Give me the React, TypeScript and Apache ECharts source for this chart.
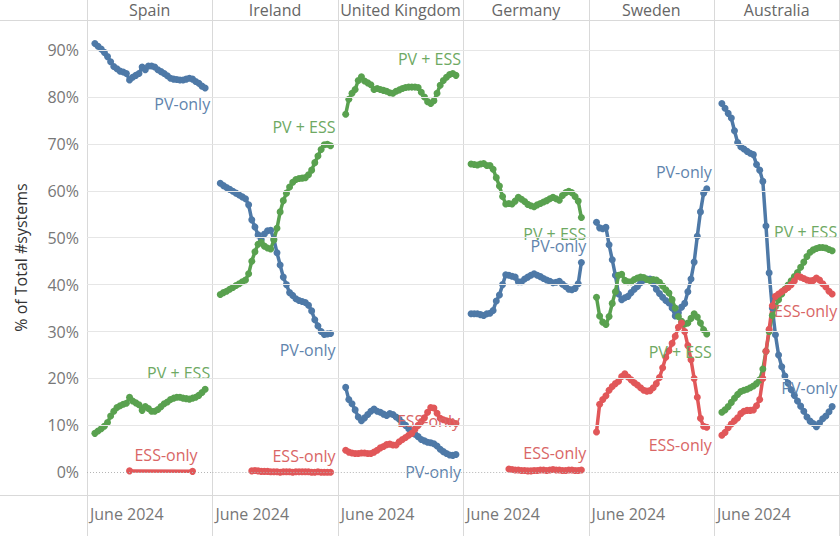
import React, { useEffect, useRef } from "react";
import * as echarts from "echarts";

// ---------- data ----------
const countries = ["Spain", "Ireland", "United Kingdom", "Germany", "Sweden", "Australia"];
const seriesNames = ["PV-only", "PV + ESS", "ESS-only"];
const xTickLabel = "June 2024";
const yGridTicks = [10, 20, 30, 40, 50, 60, 70, 80, 90];
const yZeroTick = 0;

const spainPvOnly = [91.4, 90.8, 90.2, 89.5, 88.6, 87.5, 86.5, 86.0, 85.5, 85.3, 85.0, 83.6, 84.2, 84.6, 85.0, 86.4, 85.8, 86.6, 86.6, 86.4, 85.8, 85.4, 85.0, 84.5, 84.0, 83.8, 83.7, 83.6, 83.6, 83.8, 84.0, 83.8, 83.3, 82.9, 82.3, 81.9];
const spainPvEss = [8.3, 8.8, 9.3, 9.8, 10.6, 12.0, 13.0, 13.8, 14.2, 14.5, 14.7, 16.0, 15.2, 14.8, 14.4, 13.2, 14.0, 13.6, 13.0, 13.0, 13.4, 14.0, 14.6, 15.0, 15.5, 15.8, 16.0, 16.0, 15.8, 15.7, 15.6, 15.8, 16.0, 16.4, 17.0, 17.7];
const spainEssOnly = [null, null, null, null, null, null, null, null, null, null, null, 0.3, null, null, null, null, null, null, null, null, null, null, null, null, null, null, null, null, null, null, null, 0.2, null, null, null, null];

const irelandPvOnly = [61.6, 61.1, 60.7, 60.3, 59.9, 59.5, 59.1, 58.7, 58.3, 57.0, 53.8, 52.3, 50.6, 49.6, 50.8, 51.5, 51.6, 49.7, 46.8, 44.2, 41.6, 40.0, 38.3, 37.7, 37.0, 36.6, 36.4, 36.2, 35.6, 34.4, 32.5, 31.2, 30.0, 29.4, 29.5, 29.6];
const irelandPvEss = [37.9, 38.3, 38.6, 39.0, 39.4, 39.8, 40.2, 40.6, 41.0, 42.3, 45.0, 47.0, 48.6, 49.0, 48.2, 47.8, 47.6, 49.5, 52.0, 55.5, 57.9, 59.5, 60.8, 61.8, 62.4, 62.6, 62.7, 62.8, 63.4, 64.4, 66.0, 67.4, 68.8, 69.8, 69.9, 69.6];
const irelandEssOnly = [null, null, null, null, null, null, null, null, null, null, 0.3, 0.4, 0.3, 0.2, 0.2, 0.2, 0.1, 0.1, 0.1, 0.0, 0.1, 0.1, 0.1, 0.0, 0.1, 0.1, 0.1, 0.1, 0.1, 0.0, 0.0, 0.1, 0.0, 0.0, 0.0, 0.0];

const ukPvOnly = [18.1, 15.5, 14.6, 13.3, 11.8, 11.0, 11.6, 12.3, 13.0, 13.5, 13.0, 12.8, 12.4, 12.1, 12.5, 12.3, 11.8, 11.3, 10.6, 10.0, 9.3, 8.6, 8.1, 7.6, 7.0, 6.7, 6.4, 6.3, 6.1, 5.6, 4.9, 4.4, 4.0, 3.7, 3.6, 3.8];
const ukPvEss = [76.3, 79.5, 80.8, 81.6, 83.5, 84.3, 83.4, 83.0, 82.6, 81.6, 81.8, 81.6, 81.4, 81.2, 80.9, 80.8, 81.2, 81.5, 81.8, 82.0, 82.1, 82.1, 82.1, 82.0, 81.0, 80.0, 79.0, 78.6, 79.2, 80.8, 82.5, 83.5, 84.2, 84.8, 85.0, 84.6];
const ukEssOnly = [4.7, 4.3, 4.1, 4.0, 4.0, 4.1, 4.1, 4.0, 4.0, 4.3, 4.7, 5.2, 5.5, 5.9, 6.0, 5.8, 5.8, 6.5, 7.0, 7.4, 7.9, 8.3, 9.2, 10.0, 10.8, 11.6, 12.8, 13.8, 13.7, 12.6, 11.5, 11.2, 11.0, 10.8, 10.6, 10.4];

const germanyPvOnly = [33.8, 33.8, 33.8, 33.6, 33.4, 33.8, 33.9, 34.5, 36.5, 37.8, 40.0, 42.1, 42.0, 41.8, 41.6, 40.6, 40.6, 41.2, 41.6, 42.0, 42.3, 42.0, 41.7, 41.3, 41.0, 40.7, 40.4, 40.5, 40.7, 40.1, 39.6, 39.0, 38.9, 39.2, 40.2, 44.7];
const germanyPvEss = [65.7, 65.6, 65.5, 65.7, 65.8, 65.4, 65.4, 64.6, 62.8, 61.0, 58.8, 57.2, 57.3, 57.2, 57.8, 58.6, 58.2, 57.7, 57.1, 56.8, 56.6, 57.0, 57.3, 57.6, 57.9, 58.3, 58.6, 58.3, 58.0, 59.0, 59.6, 59.9, 59.6, 58.8, 57.8, 54.3];
const germanyEssOnly = [null, null, null, null, null, null, null, null, null, null, null, null, 0.7, 0.6, 0.5, 0.5, 0.4, 0.4, 0.3, 0.3, 0.4, 0.4, 0.5, 0.5, 0.4, 0.5, 0.6, 0.5, 0.5, 0.4, 0.4, 0.5, 0.5, 0.4, 0.4, 0.5];

const swedenPvOnly = [53.3, 52.1, 51.9, 52.2, 48.5, 45.3, 42.0, 38.0, 36.8, 37.2, 37.5, 38.3, 39.0, 39.6, 40.4, 41.0, 41.2, 41.2, 40.2, 39.0, 38.1, 37.3, 36.6, 36.1, 35.0, 33.3, 34.0, 35.2, 36.0, 38.5, 41.2, 44.8, 50.3, 55.5, 59.5, 60.4];
const swedenPvEss = [37.3, 33.3, 32.0, 31.5, 33.2, 36.0, 38.5, 42.0, 42.2, 40.9, 40.6, 40.6, 41.1, 41.4, 41.6, 41.5, 41.1, 40.9, 41.1, 41.0, 40.5, 39.7, 38.9, 38.2, 36.8, 35.0, 33.2, 32.2, 31.6, 31.8, 32.8, 33.8, 33.1, 31.8, 30.4, 29.5];
const swedenEssOnly = [8.6, 14.5, 15.5, 16.3, 17.5, 18.3, 18.9, 19.4, 20.4, 21.0, 20.3, 19.7, 19.1, 18.6, 18.0, 17.5, 17.3, 17.4, 18.0, 18.9, 20.2, 22.3, 24.5, 25.9, 27.5, 29.0, 30.9, 31.8, 30.0, 27.0, 24.0, 20.0, 16.0, 11.5, 9.8, 9.6];

const australiaPvOnly = [78.6, 77.6, 76.5, 75.5, 72.8, 70.3, 69.4, 68.9, 68.4, 68.0, 67.7, 65.6, 64.4, 62.0, 52.5, 42.5, 35.0, 29.3, 25.0, 22.5, 20.5, 19.0, 17.6, 16.4, 15.2, 14.1, 13.0, 11.8, 10.9, 10.4, 9.7, 10.5, 11.4, 12.0, 12.9, 14.0];
const australiaPvEss = [12.8, 13.3, 14.0, 14.9, 15.8, 16.6, 17.2, 17.5, 17.7, 18.0, 18.4, 18.9, 19.7, 22.0, 25.8, 30.0, 33.4, 35.3, 36.8, 38.0, 39.0, 39.9, 40.8, 41.7, 42.6, 43.7, 44.8, 46.0, 46.9, 47.4, 47.7, 47.9, 47.9, 47.8, 47.5, 47.2];
const australiaEssOnly = [7.9, 8.5, 9.5, 10.3, 11.0, 11.6, 12.5, 13.0, 13.2, 13.2, 13.3, 14.2, 15.5, 20.0, 25.8, 30.5, 35.5, 37.5, 38.0, 38.5, 38.9, 39.4, 40.0, 40.8, 41.8, 41.6, 41.3, 41.0, 40.8, 40.9, 41.4, 41.0, 40.2, 39.5, 38.6, 38.0];

const dataByCountry: Record<string, (number | null)[][]> = {
  Spain: [spainPvOnly, spainPvEss, spainEssOnly],
  Ireland: [irelandPvOnly, irelandPvEss, irelandEssOnly],
  "United Kingdom": [ukPvOnly, ukPvEss, ukEssOnly],
  Germany: [germanyPvOnly, germanyPvEss, germanyEssOnly],
  Sweden: [swedenPvOnly, swedenPvEss, swedenEssOnly],
  Australia: [australiaPvOnly, australiaPvEss, australiaEssOnly],
};

// ---------- styles / layout ----------
const FONT = "'Open Sans', sans-serif";
const colors = ["#4e79a7", "#59a14f", "#e15759"];
const labelColors = ["#5f84ad", "#6ea963", "#d96666"];
const PLOT_LEFT = 87;
const PANEL_W = 125.4;
const PLOT_TOP = 20;
const PLOT_BOTTOM = 495;
const WIDTH = 840;
const HEIGHT = 536;
const BORDER = "#d9d9d9";

// end-label placement per country / series: [position, distance]
const labelPlacement: Record<string, [string, number]> = {
  "Spain|0": ["bottom", 4], "Spain|1": ["top", 5], "Spain|2": ["top", 5],
  "Ireland|0": ["bottom", 5], "Ireland|1": ["top", 7], "Ireland|2": ["top", 5],
  "United Kingdom|0": ["bottom", 6], "United Kingdom|1": ["top", 5], "United Kingdom|2": ["inside", 0],
  "Germany|0": ["top", 5], "Germany|1": ["bottom", 5], "Germany|2": ["top", 5],
  "Sweden|0": ["top", 5], "Sweden|1": ["bottom", 7], "Sweden|2": ["bottom", 6],
  "Australia|0": ["top", 7], "Australia|1": ["top", 7], "Australia|2": ["bottom", 5],
};

function buildOption() {
  const grid = countries.map((_, i) => ({
    left: PLOT_LEFT + i * PANEL_W,
    top: PLOT_TOP,
    width: PANEL_W,
    height: PLOT_BOTTOM - PLOT_TOP,
  }));

  const xAxis = countries.map((_, i) => ({
    type: "value",
    gridIndex: i,
    min: -2.5,
    max: 37.3,
    interval: 100,
    axisLine: { show: false },
    axisTick: { show: false },
    splitLine: { show: false },
    axisLabel: {
      show: true,
      showMinLabel: true,
      showMaxLabel: false,
      formatter: (_v: number, idx: number) => (idx === 0 ? xTickLabel : ""),
      align: "left",
      padding: [0, 0, 0, 3],
      margin: 11,
      color: "#777",
      fontSize: 16,
      fontFamily: FONT,
    },
  }));

  const yAxis = countries.map((_, i) => ({
    type: "value",
    gridIndex: i,
    min: -4.84,
    max: 96.4,
    splitNumber: 10,
    minInterval: 10,
    maxInterval: 10,
    axisLine: { show: false },
    axisTick: { show: false },
    splitLine: { show: false },
    axisLabel:
      i === 0
        ? {
            show: true,
            margin: 8,
            color: "#777",
            fontSize: 16,
            fontFamily: FONT,
            formatter: (v: number) =>
              v >= -1e-6 && Math.abs(v - Math.round(v / 10) * 10) < 1e-6 ? `${Math.round(v)}%` : "",
          }
        : { show: false },
    name: i === 0 ? "% of Total #systems" : "",
    nameLocation: "middle",
    nameGap: 58,
    nameRotate: 90,
    nameTextStyle: { color: "#333", fontSize: 16, fontFamily: FONT },
  }));

  const series: any[] = [];
  countries.forEach((country, ci) => {
    // gridlines for this panel
    series.push({
      type: "line",
      xAxisIndex: ci,
      yAxisIndex: ci,
      data: [],
      silent: true,
      z: 1,
      markLine: {
        silent: true,
        symbol: ["none", "none"],
        label: { show: false },
        animation: false,
        data: [
          ...yGridTicks.map((v) => ({ yAxis: v, lineStyle: { color: "#e6e6e6", width: 1, type: "solid" } })),
          { yAxis: yZeroTick, lineStyle: { color: "#b5b5b5", width: 1, type: [1, 2] } },
        ],
      },
    });
    const arrs = dataByCountry[country];
    arrs.forEach((arr, si) => {
      let last = -1;
      arr.forEach((v, j) => {
        if (v != null) last = j;
      });
      const [pos, dist] = labelPlacement[`${country}|${si}`];
      const pts: any[] = [];
      arr.forEach((v, j) => {
        if (v == null) return;
        if (j === last) {
          pts.push({
            value: [j, v],
            label: {
              show: true,
              position: pos,
              distance: dist,
              align: "right",
              verticalAlign: pos === "inside" ? "middle" : undefined,
              offset: pos === "inside" ? [4, -2] : [5, 0],
              formatter: seriesNames[si],
              color: labelColors[si],
              fontSize: 16,
              fontFamily: FONT,
            },
          });
        } else {
          pts.push([j, v]);
        }
      });
      series.push({
        type: "line",
        name: seriesNames[si],
        xAxisIndex: ci,
        yAxisIndex: ci,
        z: 3,
        data: pts,
        symbol: "circle",
        symbolSize: 7,
        showSymbol: true,
        lineStyle: { color: colors[si], width: 3.5 },
        itemStyle: { color: colors[si] },
        label: { show: false },
        emphasis: { disabled: true },
      });
    });
  });

  const graphic: any[] = [];
  // header row line and bottom line
  graphic.push({ type: "line", shape: { x1: 0, y1: PLOT_TOP + 0.5, x2: WIDTH, y2: PLOT_TOP + 0.5 }, style: { stroke: BORDER, lineWidth: 1 }, silent: true });
  graphic.push({ type: "line", shape: { x1: 0, y1: PLOT_BOTTOM + 0.5, x2: WIDTH, y2: PLOT_BOTTOM + 0.5 }, style: { stroke: BORDER, lineWidth: 1 }, silent: true });
  for (let i = 0; i <= countries.length; i++) {
    const x = Math.round(PLOT_LEFT + i * PANEL_W) + 0.5;
    graphic.push({ type: "line", shape: { x1: x, y1: 0, x2: x, y2: HEIGHT }, style: { stroke: BORDER, lineWidth: 1 }, silent: true });
  }
  countries.forEach((c, i) => {
    graphic.push({
      type: "text",
      x: PLOT_LEFT + i * PANEL_W + PANEL_W / 2,
      y: 10,
      style: { text: c, fill: "#666", font: `16px ${FONT}`, textAlign: "center", textVerticalAlign: "middle" },
      silent: true,
    });
  });

  return {
    animation: false,
    backgroundColor: "#ffffff",
    grid,
    xAxis,
    yAxis,
    series,
    graphic,
  };
}

export default function App() {
  const ref = useRef<HTMLDivElement>(null);
  useEffect(() => {
    if (!ref.current) return;
    const chart = echarts.init(ref.current, undefined, { renderer: "svg" });
    chart.setOption(buildOption() as any);
    return () => chart.dispose();
  }, []);
  return (
    <div
      ref={ref}
      style={{ position: "fixed", left: 0, top: 0, width: WIDTH, height: HEIGHT, background: "#fff" }}
    />
  );
}
